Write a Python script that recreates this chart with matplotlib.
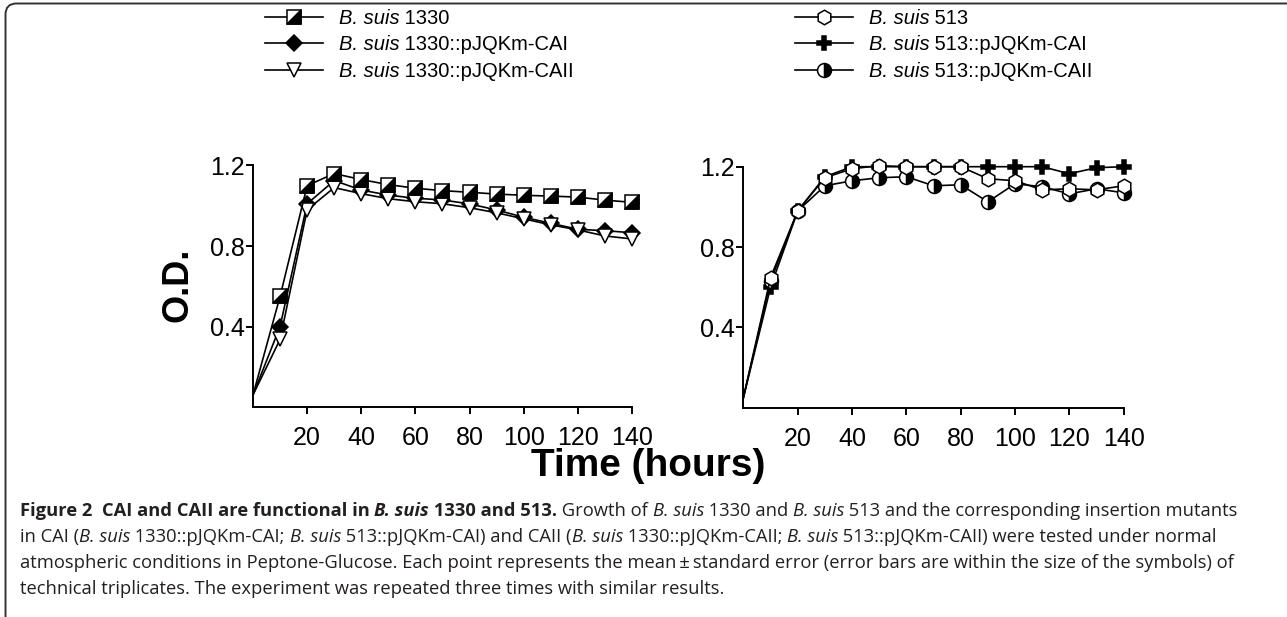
import matplotlib
matplotlib.use('Agg')
import matplotlib.pyplot as plt
from matplotlib.path import Path
from matplotlib.patches import PathPatch
from matplotlib.transforms import IdentityTransform
from matplotlib.legend_handler import HandlerTuple
from matplotlib.font_manager import FontProperties

# ---------------- data ----------------
time_h = [0, 10, 20, 30, 40, 50, 60, 70, 80, 90, 100, 110, 120, 130, 140]

od_1330 = [0.06, 0.55, 1.10, 1.16, 1.13, 1.105, 1.087, 1.075, 1.067, 1.058, 1.052, 1.048, 1.043, 1.028, 1.017]
od_1330_cai = [0.06, 0.40, 1.01, 1.125, 1.078, 1.053, 1.037, 1.029, 1.009, 0.979, 0.943, 0.913, 0.883, 0.876, 0.866]
od_1330_caii = [0.06, 0.336, 0.98, 1.09, 1.06, 1.035, 1.02, 1.01, 0.99, 0.965, 0.935, 0.905, 0.88, 0.85, 0.835]

od_513 = [0.05, 0.648, 0.98, 1.145, 1.19, 1.205, 1.20, 1.20, 1.20, 1.14, 1.13, 1.085, 1.09, 1.085, 1.105]
od_513_cai = [0.05, 0.60, 0.98, 1.15, 1.20, 1.20, 1.20, 1.20, 1.20, 1.20, 1.20, 1.20, 1.165, 1.195, 1.20]
od_513_caii = [0.05, 0.63, 0.98, 1.105, 1.13, 1.145, 1.15, 1.105, 1.11, 1.025, 1.115, 1.10, 1.065, 1.09, 1.07]

x_ticks = [20, 40, 60, 80, 100, 120, 140]
y_ticks = [0.4, 0.8, 1.2]
y_ticklabels = ['0.4', '0.8', '1.2']

species = 'B. suis'
strains_left = ['1330', '1330::pJQKm-CAI', '1330::pJQKm-CAII']
strains_right = ['513', '513::pJQKm-CAI', '513::pJQKm-CAII']

# ---------------- style ----------------
plt.rcParams['font.family'] = ['Liberation Sans', 'DejaVu Sans']

W, H = 1287, 617
fig = plt.figure(figsize=(W / 100, H / 100), dpi=100)

def fx(x):
    return x / W

def fy(y):
    return 1 - y / H

axL = fig.add_axes([fx(253), fy(407), 379 / W, 241.5 / H])
axR = fig.add_axes([fx(743.4), fy(407.7), 380.3 / W, 241 / H])

half_sq = Path([(1, 1), (1, -1), (-1, -1), (1, 1)],
               [Path.MOVETO, Path.LINETO, Path.LINETO, Path.CLOSEPOLY])

LW = 1.2
MEW = 1.1
skip0 = slice(1, None)
common = dict(color='k', lw=LW, mec='k', mew=MEW, clip_on=False, markevery=skip0)

l2, = axL.plot(time_h, od_1330_cai, marker='D', ms=8.5, mfc='k', zorder=3, **common)
l3, = axL.plot(time_h, od_1330_caii, marker='v', ms=10.5, mfc='w', zorder=4, **common)
l1, = axL.plot(time_h, od_1330, marker='s', ms=9.5, mfc='w', zorder=5, **common)
l1b, = axL.plot(time_h, od_1330, ls='none', marker=half_sq, ms=9.5, mfc='k', mec='k', mew=MEW,
                clip_on=False, zorder=6, markevery=skip0)

r2, = axR.plot(time_h, od_513_cai, marker='P', ms=10, mfc='k', zorder=3, **common)
r3, = axR.plot(time_h, od_513_caii, marker='o', ms=10, mfc='k', mfcalt='w', fillstyle='right',
               zorder=4, **common)
r1, = axR.plot(time_h, od_513, marker='h', ms=10.5, mfc='w', zorder=5, **common)

for ax in (axL, axR):
    ax.set_xlim(0, 140)
    ax.set_ylim(0, 1.2)
    ax.set_xticks(x_ticks)
    ax.set_xticklabels([str(t) for t in x_ticks])
    ax.set_yticks(y_ticks)
    ax.set_yticklabels(y_ticklabels)
    for s in ('top', 'right'):
        ax.spines[s].set_visible(False)
    for s in ('left', 'bottom'):
        ax.spines[s].set_linewidth(1.4)
    ax.tick_params(direction='out', length=5, width=1.4, labelsize=18, colors='k')
    ax.tick_params(axis='x', pad=9)
    ax.tick_params(axis='y', pad=1)

LEG_FS = 14.5
leg_kw = dict(loc='upper left', frameon=False, borderpad=0, borderaxespad=0,
              handlelength=2.9, handletextpad=0.75, labelspacing=0.37, fontsize=LEG_FS,
              bbox_transform=fig.transFigure)
# labels are drawn below as mixed italic/upright text at the legend's text slots
legL = fig.legend(handles=[(l1, l1b), l2, l3], labels=['', '', ''],
                  bbox_to_anchor=(fx(265), fy(9)), handler_map={tuple: HandlerTuple(ndivide=1, pad=0)},
                  **leg_kw)
legR = fig.legend(handles=[r1, r2, r3], labels=['', '', ''],
                  bbox_to_anchor=(fx(795), fy(9)), **leg_kw)

fig.text(fx(178), fy(285), 'O.D.', rotation=90, ha='center', va='center', fontsize=26, weight='bold')
fig.text(fx(648), fy(466), 'Time (hours)', ha='center', va='center', fontsize=28, weight='bold')

# ---------------- frame (rounded top-left corner) ----------------
r = 11
x0, ytop = 5.5, H - 3.5
verts = [(x0, -20), (x0, ytop - r), (x0, ytop), (x0 + r, ytop), (W + 20, ytop)]
codes = [Path.MOVETO, Path.LINETO, Path.CURVE3, Path.CURVE3, Path.LINETO]
fig.add_artist(PathPatch(Path(verts, codes), fill=False, lw=1.4, edgecolor='#333333',
                         transform=IdentityTransform()))

# ---------------- mixed-style text helpers ----------------
fig.canvas.draw()
renderer = fig.canvas.get_renderer()

def props(style, size, family):
    return FontProperties(family=family, size=size,
                          weight='bold' if 'b' in style else 'normal',
                          style='italic' if 'i' in style else 'normal')

def run_width(text, style, size, family):
    p = props(style, size, family)
    w1, _, _ = renderer.get_text_width_height_descent('|' + text + '|', p, ismath=False)
    w2, _, _ = renderer.get_text_width_height_descent('||', p, ismath=False)
    return w1 - w2

def draw_runs(runs, x, y_disp, size, family, color):
    for text, style in runs:
        fig.text(x / W, y_disp / H, text, fontproperties=props(style, size, family), color=color,
                 ha='left', va='baseline')
        x += run_width(text, style, size, family)

# legend labels: italic species + upright strain, placed on each legend row's baseline
leg_family = ['Liberation Sans', 'DejaVu Sans']
for leg, strains in ((legL, strains_left), (legR, strains_right)):
    for txt, strain in zip(leg.get_texts(), strains):
        bb = txt.get_window_extent(renderer)
        draw_runs([(species, 'i'), (' ' + strain, '')], bb.x0, bb.y0, LEG_FS, leg_family, 'k')

# ---------------- caption ----------------
cap_color = '#231f20'
cap_family = ['Open Sans', 'DejaVu Sans']
caption_lines = [
    [("Figure 2  CAI and CAII are functional in ", 'b'), ("B. suis", 'bi'), (" 1330 and 513.", 'b'),
     (" Growth of ", ''), ("B. suis", 'i'), (" 1330 and ", ''), ("B. suis", 'i'),
     (" 513 and the corresponding insertion mutants", '')],
    [("in CAI (", ''), ("B. suis", 'i'), (" 1330::pJQKm-CAI; ", ''), ("B. suis", 'i'),
     (" 513::pJQKm-CAI) and CAII (", ''), ("B. suis", 'i'), (" 1330::pJQKm-CAII; ", ''),
     ("B. suis", 'i'), (" 513::pJQKm-CAII) were tested under normal", '')],
    [("atmospheric conditions in Peptone-Glucose. Each point represents the mean\u2009\u00b1\u2009standard error "
      "(error bars are within the size of the symbols) of", '')],
    [("technical triplicates. The experiment was repeated three times with similar results.", '')],
]
caption_baselines = [516, 542, 568, 594]

def line_width(runs, size):
    return sum(run_width(t, s, size, cap_family) for t, s in runs)

base = 10.0
target = (1247 - 20) + (1225 - 20)
cap_size = base * target / (line_width(caption_lines[0], base) + line_width(caption_lines[2], base))

for runs, yb in zip(caption_lines, caption_baselines):
    draw_runs(runs, 20, H - yb, cap_size, cap_family, cap_color)

fig.savefig('out.png', dpi=100)
